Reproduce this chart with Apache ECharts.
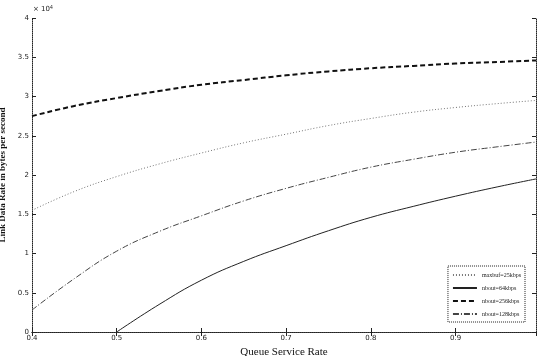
<!DOCTYPE html>
<html><head><meta charset="utf-8">
<script src="https://cdn.jsdelivr.net/npm/echarts@6/dist/echarts.min.js"></script>
<style>html,body{margin:0;padding:0;background:#fff}#c{width:537px;height:356px}</style>
</head><body><div id="c"></div>
<script>
var xValues = [0.4,0.45,0.5,0.55,0.6,0.65,0.7,0.75,0.8,0.85,0.9,0.95,0.995];
var seriesNames = ['maxbuf=25kbps','nbout=64kbps','nbout=256kbps','nbout=128kbps'];
var dottedVals  = [15500,17900,19800,21400,22800,24100,25200,26300,27200,28000,28600,29100,29500];
var solidVals   = [null,null,0,3500,6600,9000,11000,12900,14600,16000,17300,18500,19500];
var dashedVals  = [27500,28800,29800,30700,31500,32100,32700,33200,33600,33900,34200,34400,34600];
var dashDotVals = [2800,6800,10300,12800,14800,16700,18300,19700,21000,22000,22900,23600,24200];
var yTickLabels = ['0','0.5','1','1.5','2','2.5','3','3.5','4'];
var xTickLabels = ['0.4','0.5','0.6','0.7','0.8','0.9'];

function pairs(v){ return xValues.map(function(x,i){ return [x, v[i]]; }); }
var serif = 'Liberation Serif';
var chart = echarts.init(document.getElementById('c'), null, {renderer:'canvas'});
var axisLineStyle = {color:'#222', width:1, type:[1,1]};
chart.setOption({
  animation:false,
  backgroundColor:'#fff',
  grid:{left:32, right:1, top:18, bottom:24, containLabel:false, outerBoundsMode:'none'},
  xAxis:[{
    type:'value', min:0.4, max:0.995, interval:0.1,
    name:'Queue Service Rate', nameLocation:'middle', nameGap:13,
    nameTextStyle:{fontFamily:serif, fontSize:11, color:'#111'},
    axisLine:{show:true, lineStyle:axisLineStyle},
    axisTick:{show:true, inside:true, length:4, lineStyle:{color:'#222'}},
    axisLabel:{fontFamily:'DejaVu Sans', fontSize:7, color:'#222', margin:3, showMaxLabel:false,
      formatter:function(v){ var i=Math.round((v-0.4)*10); return xTickLabels[i]||''; }},
    splitLine:{show:false}
  },{
    type:'value', position:'top', min:0.4, max:0.995, interval:0.1,
    axisLine:{show:true, lineStyle:axisLineStyle},
    axisTick:{show:true, inside:true, length:4, lineStyle:{color:'#222'}},
    axisLabel:{show:false}, splitLine:{show:false}
  }],
  yAxis:[{
    type:'value', min:0, max:40000, interval:5000,
    name:'Link Data Rate in bytes per second', nameLocation:'middle', nameGap:14, nameRotate:90,
    nameTextStyle:{fontFamily:serif, fontSize:9, fontWeight:'bold', color:'#111'},
    axisLine:{show:true, lineStyle:axisLineStyle},
    axisTick:{show:true, inside:true, length:4, lineStyle:{color:'#222'}},
    axisLabel:{fontFamily:'DejaVu Sans', fontSize:7, color:'#222', margin:3,
      formatter:function(v){ return yTickLabels[Math.round(v/5000)]; }},
    splitLine:{show:false}
  },{
    type:'value', position:'right', min:0, max:40000, interval:5000,
    axisLine:{show:true, lineStyle:axisLineStyle},
    axisTick:{show:true, inside:true, length:4, lineStyle:{color:'#222'}},
    axisLabel:{show:false}, splitLine:{show:false}
  }],
  legend:{
    orient:'vertical', right:12, bottom:34, padding:[6,4,5,4],
    borderColor:'#222', borderWidth:1, borderType:[1,1], backgroundColor:'#fff',
    itemWidth:24, itemHeight:6, itemGap:7,
    itemStyle:{opacity:0},
    textStyle:{fontFamily:serif, fontSize:6, color:'#222'},
    data:seriesNames
  },
  graphic:[{type:'text', left:33, top:5, style:{text:'× 10{s|4}', rich:{s:{fontSize:5, verticalAlign:'top', padding:[0,0,4,0]}}, fontSize:7, fontFamily:'DejaVu Sans', fill:'#222'}}],
  series:[
    {name:seriesNames[0], type:'line', smooth:0.45, symbol:'none', data:pairs(dottedVals), lineStyle:{color:'#777', width:1, type:[1,2]}, itemStyle:{color:'#777'}},
    {name:seriesNames[1], type:'line', smooth:0.45, symbol:'none', data:pairs(solidVals), lineStyle:{color:'#222', width:1, type:'solid'}, itemStyle:{color:'#222'}},
    {name:seriesNames[2], type:'line', smooth:0.45, symbol:'none', data:pairs(dashedVals), lineStyle:{color:'#111', width:2, type:[5,3]}, itemStyle:{color:'#111'}},
    {name:seriesNames[3], type:'line', smooth:0.45, symbol:'none', data:pairs(dashDotVals), lineStyle:{color:'#444', width:1, type:[6,2,1,2]}, itemStyle:{color:'#444'}}
  ]
});
</script></body></html>
